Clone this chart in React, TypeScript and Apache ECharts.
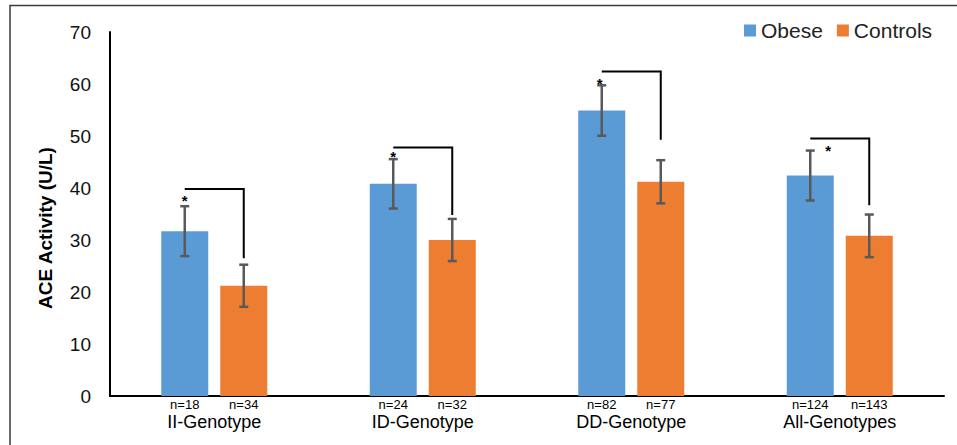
import React, { useEffect, useRef } from "react";
import * as echarts from "echarts";

const categories = ["II-Genotype", "ID-Genotype", "DD-Genotype", "All-Genotypes"];
const seriesNames = ["Obese", "Controls"];
const obeseMeans = [31.7, 40.8, 54.9, 42.4];
const obeseErrors = [4.8, 4.75, 4.85, 4.8];
const controlMeans = [21.2, 30.0, 41.2, 30.8];
const controlErrors = [4.05, 4.05, 4.15, 4.1];
const obeseN = [18, 24, 82, 124];
const controlN = [34, 32, 77, 143];
const bracketTops = [39.8, 47.8, 62.4, 49.5];
const bracketEnds = [26.5, 34.8, 49.3, 36.7];
const starLevels = [38.3, 46.7, 60.8, 47.9];
const yMin = 0;
const yMax = 70;
const yStep = 10;

// styling / layout constants
const BAR_W = 47;
const BAR_GAP = 12;
const HALF = (BAR_W + BAR_GAP) / 2;
const CAP = 4.5;
const STAR_DX = [0, 0, -2, 18];
const FONT = "'Liberation Sans', Arial, sans-serif";

export default function App() {
  const ref = useRef<HTMLDivElement>(null);
  useEffect(() => {
    document.body.style.margin = "0";
    const chart = echarts.init(ref.current!, null, { renderer: "svg" });

    const errData: number[][] = [];
    categories.forEach((_, i) => {
      errData.push([i, obeseMeans[i], obeseErrors[i], -1]);
      errData.push([i, controlMeans[i], controlErrors[i], 1]);
    });
    const bracketData = categories.map((_, i) => [i, bracketTops[i], bracketEnds[i], starLevels[i]]);

    const nLabel = (arr: number[]) => ({
      show: true,
      position: "insideBottom",
      distance: 0,
      offset: [0, 14],
      formatter: (p: any) => "n=" + arr[p.dataIndex],
      fontSize: 13,
      lineHeight: 12,
      color: "#000",
      fontFamily: FONT,
    });

    const option: any = {
      animation: false,
      backgroundColor: "#fff",
      textStyle: { fontFamily: FONT },
      grid: { left: 110, right: 13, top: 32, bottom: 49, containLabel: false },
      legend: {
        data: seriesNames,
        left: 744,
        top: 20,
        padding: 0,
        icon: "rect",
        itemWidth: 12,
        itemHeight: 12,
        itemGap: 14,
        textStyle: { fontSize: 21, color: "#222", fontFamily: FONT },
      },
      xAxis: {
        type: "category",
        data: categories,
        axisLine: { lineStyle: { color: "#000", width: 2 } },
        axisTick: { show: false },
        axisLabel: { fontSize: 18, color: "#000", margin: 17, fontFamily: FONT },
        splitLine: { show: false },
      },
      yAxis: {
        type: "value",
        min: yMin,
        max: yMax,
        interval: yStep,
        axisLine: { show: true, lineStyle: { color: "#000", width: 2 } },
        axisTick: { show: false },
        splitLine: { show: false },
        axisLabel: { fontSize: 19, color: "#111", margin: 19, fontFamily: FONT },
      },
      graphic: [
        {
          type: "rect",
          silent: true,
          z: -10,
          shape: { x: 10, y: 5.5, width: 990, height: 500 },
          style: { fill: "none", stroke: "#3a3a3a", lineWidth: 1.5 },
        },
        {
          type: "text",
          x: 45,
          y: 228,
          rotation: Math.PI / 2,
          style: {
            text: "ACE Activity (U/L)",
            font: `bold 19px ${FONT}`,
            fill: "#000",
            align: "center",
            verticalAlign: "middle",
          },
        },
      ],
      series: [
        {
          name: seriesNames[0],
          type: "bar",
          data: obeseMeans,
          barWidth: BAR_W,
          barGap: `${(BAR_GAP / BAR_W) * 100}%`,
          itemStyle: { color: "#5B9BD5" },
          label: nLabel(obeseN),
        },
        {
          name: seriesNames[1],
          type: "bar",
          data: controlMeans,
          barWidth: BAR_W,
          barGap: `${(BAR_GAP / BAR_W) * 100}%`,
          itemStyle: { color: "#ED7D31" },
          label: nLabel(controlN),
        },
        {
          type: "custom",
          data: errData,
          encode: { x: 0, y: 1 },
          z: 5,
          renderItem: (params: any, api: any) => {
            const i = api.value(0);
            const m = api.value(1);
            const e = api.value(2);
            const s = api.value(3);
            const cx = api.coord([i, m])[0] + s * HALF;
            const yTop = api.coord([i, m + e])[1];
            const yBot = api.coord([i, m - e])[1];
            const style = { stroke: "#595959", lineWidth: 2.5 };
            return {
              type: "group",
              children: [
                { type: "line", shape: { x1: cx, y1: yTop, x2: cx, y2: yBot }, style },
                { type: "line", shape: { x1: cx - CAP, y1: yTop, x2: cx + CAP, y2: yTop }, style },
                { type: "line", shape: { x1: cx - CAP, y1: yBot, x2: cx + CAP, y2: yBot }, style },
              ],
            };
          },
        },
        {
          type: "custom",
          data: bracketData,
          encode: { x: 0, y: 1 },
          z: 6,
          renderItem: (params: any, api: any) => {
            const i = api.value(0);
            const top = api.value(1);
            const end = api.value(2);
            const star = api.value(3);
            const gx = api.coord([i, top])[0];
            const yTop = api.coord([i, top])[1];
            const yEnd = api.coord([i, end])[1];
            const yStar = api.coord([i, star])[1];
            const x1 = gx - HALF;
            const x2 = gx + HALF;
            return {
              type: "group",
              children: [
                {
                  type: "polyline",
                  shape: { points: [[x1, yTop], [x2, yTop], [x2, yEnd]] },
                  style: { stroke: "#000", lineWidth: 2, fill: "none" },
                },
                {
                  type: "text",
                  x: x1 + STAR_DX[params.dataIndex],
                  y: yStar + 3.5,
                  style: {
                    text: "*",
                    font: `bold 15px ${FONT}`,
                    fill: "#000",
                    align: "center",
                    verticalAlign: "middle",
                  },
                },
              ],
            };
          },
        },
      ],
    };
    chart.setOption(option);
    return () => chart.dispose();
  }, []);
  return (
    <div
      ref={ref}
      style={{ position: "absolute", left: 0, top: 0, width: 957, height: 445 }}
    />
  );
}
